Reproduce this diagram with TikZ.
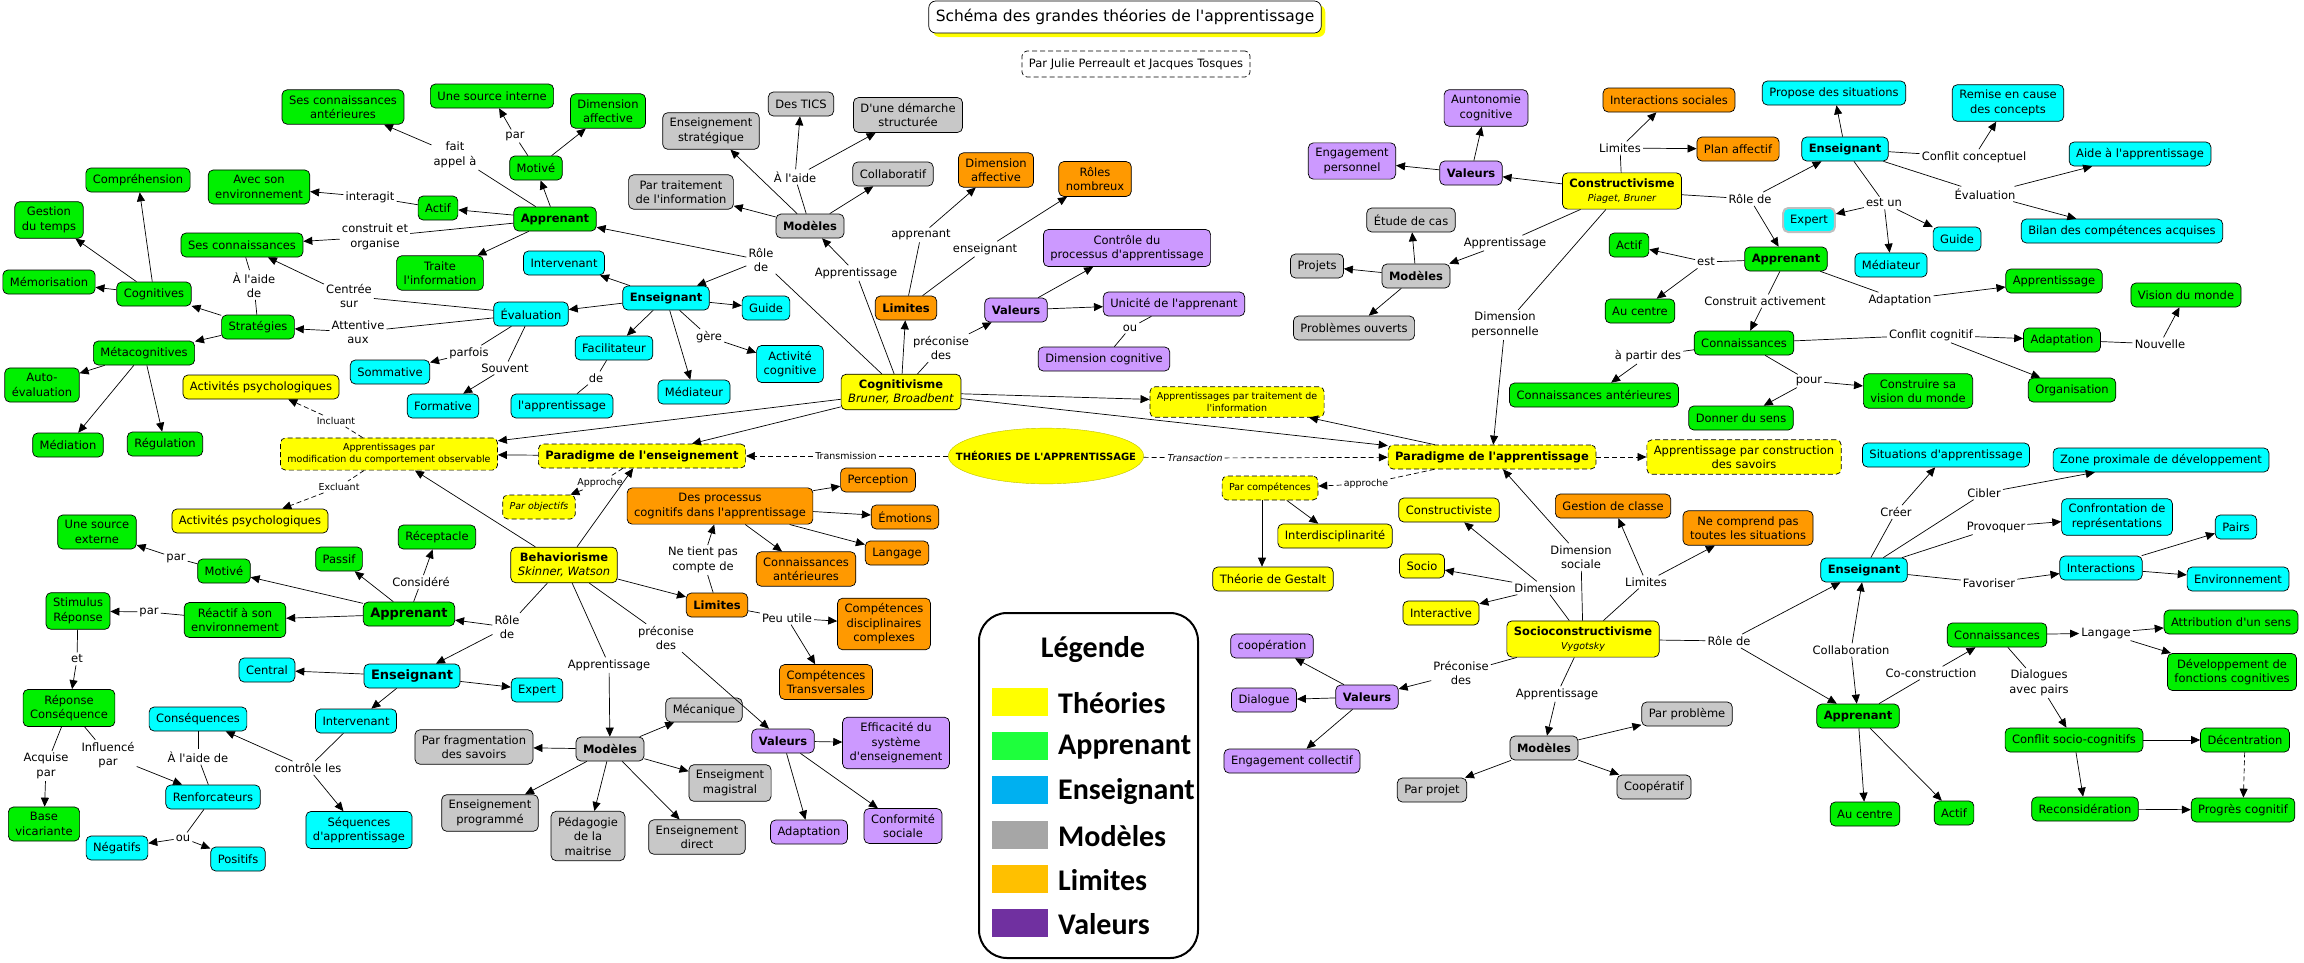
\documentclass[tikz,border=0pt]{standalone}
\usepackage{fontspec}
\setmainfont{DejaVu Sans}[Ligatures=TeXOff]
\newfontfamily\legfont{Carlito}
\usetikzlibrary{arrows.meta,shapes.geometric,shadows}
\definecolor{cjaune}{RGB}{255,255,0}
\definecolor{cvert}{RGB}{0,240,0}
\definecolor{ccyan}{RGB}{0,255,255}
\definecolor{cgris}{RGB}{200,200,200}
\definecolor{corange}{RGB}{255,153,0}
\definecolor{cmauve}{RGB}{204,153,255}
\definecolor{lgjaune}{RGB}{255,255,0}
\definecolor{lgvert}{RGB}{30,255,60}
\definecolor{lgbleu}{RGB}{0,176,240}
\definecolor{lggris}{RGB}{166,166,166}
\definecolor{lgorange}{RGB}{255,192,0}
\definecolor{lgviolet}{RGB}{112,48,160}
\newcommand\txtn{\fontsize{11.5}{14.5}\selectfont}
\newcommand\txts{\fontsize{9.5}{12}\selectfont}

\begin{document}
\begin{tikzpicture}[x=1pt,y=-1pt,
  concept/.style={rectangle, rounded corners=5pt, draw=black, line width=0.7pt,
                  align=center, inner xsep=7pt, inner ysep=5.5pt, minimum height=24pt, font=\txtn},
  appr/.style={concept, fill=cvert},
  ensg/.style={concept, fill=ccyan},
  modl/.style={concept, fill=cgris},
  limt/.style={concept, fill=corange},
  valr/.style={concept, fill=cmauve},
  theor/.style={concept, fill=cjaune},
  pointille/.style={concept, fill=cjaune, dash pattern=on 5pt off 3pt},
  tete/.style={font=\txtn\bfseries},
  grostete/.style={font=\fontsize{13}{16}\selectfont\bfseries},
  lien/.style={font=\txtn, inner sep=2pt, align=center},
  petit/.style={font=\txts, inner sep=2pt, align=center},
  fleche/.style={-{Triangle[length=9pt,width=8pt]}, line width=0.7pt},
  trait/.style={line width=0.7pt},
  dfleche/.style={fleche, dash pattern=on 5pt off 3pt},
  dtrait/.style={trait, dash pattern=on 5pt off 3pt}
]
\useasboundingbox (0,0) rectangle (2304,962);

% Titre
\node[concept, rounded corners=7pt, fill=white, font=\fontsize{15.5}{18}\selectfont, minimum height=32pt,
      drop shadow={shadow xshift=4pt, shadow yshift=-4pt, fill=cjaune, opacity=1}]
      (titre) at (1125,17) {Schéma des grandes théories de l'apprentissage};
\node[concept, fill=white, dash pattern=on 5pt off 3pt, minimum height=26pt] (auteurs) at (1136,64) {Par Julie Perreault et Jacques Tosques};

% Centre et paradigmes
\node[ellipse, fill=cjaune, draw=cjaune!75!black, inner xsep=-21pt, inner ysep=15pt,
      font=\fontsize{10}{12}\selectfont\bfseries] (theo) at (1046,456) {THÉORIES DE L'APPRENTISSAGE};
\node[pointille, tete] (pens) at (642,456) {Paradigme de l'enseignement};
\node[pointille, tete] (papp) at (1492,457) {Paradigme de l'apprentissage};
\node[petit] (transm) at (846,456) {Transmission};
\node[petit, font=\txts\itshape] (transa) at (1195,458) {Transaction};
\node[pointille, font=\txts] (amod) at (389,454) {Apprentissages par\\modification du comportement observable};
\node[pointille, font=\txts] (atrait) at (1237,402) {Apprentissages par traitement de\\l'information};
\node[pointille] (acons) at (1744,457) {Apprentissage par construction\\des savoirs};
\node[pointille, font=\txts\itshape] (pobj) at (539,507) {Par objectifs};
\node[pointille, font=\txts] (pcomp) at (1270,488) {Par compétences};
\node[theor] (actA) at (261,387) {Activités psychologiques};
\node[theor] (actB) at (250,521) {Activités psychologiques};
\node[petit] (incl) at (336,421) {Incluant};
\node[petit] (excl) at (339,487) {Excluant};
\node[petit] (appro) at (600,483) {Approche};
\node[petit] (approc) at (1366,484) {approche};
\node[theor] (interd) at (1335,536) {Interdisciplinarité};
\node[theor] (gestalt) at (1273,579) {Théorie de Gestalt};

% Cognitivisme
\node[theor] (cog) at (901,392) {\textbf{Cognitivisme}\\\textit{Bruner, Broadbent}};
\node[modl, tete] (cmod) at (810,226) {Modèles};
\node[modl] (cmodA) at (681,192) {Par traitement\\de l'information};
\node[modl] (cmodB) at (711,131) {Enseignement\\stratégique};
\node[modl] (cmodC) at (801,104) {Des TICS};
\node[modl] (cmodD) at (908,115) {D'une démarche\\structurée};
\node[modl] (cmodE) at (893,174) {Collaboratif};
\node[lien] (laide) at (795,177) {À l'aide};
\node[lien] (lapp1) at (856,273) {Apprentissage};
\node[limt, tete] (clim) at (906,308) {Limites};
\node[limt] (climA) at (996,170) {Dimension\\affective};
\node[limt] (climB) at (1095,179) {Rôles\\nombreux};
\node[lien] (lappr) at (921,235) {apprenant};
\node[lien] (lens) at (985,249) {enseignant};
\node[valr, tete] (cval) at (1016,310) {Valeurs};
\node[lien] (lpre1) at (941,348) {préconise\\des};
\node[valr] (cvalA) at (1127,248) {Contrôle du\\processus d'apprentissage};
\node[valr] (cvalB) at (1174,304) {Unicité de l'apprenant};
\node[lien] (lou1) at (1130,328) {ou};
\node[valr] (cvalC) at (1104,359) {Dimension cognitive};
\node[lien] (lrole1) at (761,260) {Rôle\\de};
\node[appr, tete] (capp) at (555,219) {Apprenant};
\node[appr] (cmot) at (536,168) {Motivé};
\node[lien] (lpar1) at (515,136) {par};
\node[appr] (csrc) at (492,96) {Une source interne};
\node[appr] (caff) at (608,111) {Dimension\\affective};
\node[lien] (lfait) at (455,155) {fait\\appel à};
\node[appr] (canter) at (343,107) {Ses connaissances\\antérieures};
\node[appr] (cactif) at (438,208) {Actif};
\node[lien] (linter) at (370,197) {interagit};
\node[appr] (cenv) at (259,187) {Avec son\\environnement};
\node[lien] (lcons) at (375,237) {construit et\\organise};
\node[appr] (cconn) at (242,245) {Ses connaissances};
\node[appr] (ctrait) at (440,273) {Traite\\l'information};
\node[lien] (laide2) at (254,285) {À l'aide\\de};
\node[appr] (cstrat) at (258,327) {Stratégies};
\node[appr] (ccogn) at (154,294) {Cognitives};
\node[appr] (cmemo) at (49,282) {Mémorisation};
\node[appr] (cgest) at (49,220) {Gestion\\du temps};
\node[appr] (ccomp) at (138,180) {Compréhension};
\node[appr] (cmeta) at (144,353) {Métacognitives};
\node[appr] (cauto) at (42,385) {Auto-\\évaluation};
\node[appr] (cmedi) at (68,445) {Médiation};
\node[appr] (cregu) at (165,444) {Régulation};
\node[ensg, tete] (cens) at (666,298) {Enseignant};
\node[ensg] (cinterv) at (564,263) {Intervenant};
\node[ensg] (ceval) at (531,314) {Évaluation};
\node[lien] (lcentr) at (349,296) {Centrée\\sur};
\node[lien] (latt) at (358,332) {Attentive\\aux};
\node[lien] (lparf) at (469,353) {parfois};
\node[lien] (lsouv) at (505,368) {Souvent};
\node[ensg] (csomm) at (390,372) {Sommative};
\node[ensg] (cform) at (443,406) {Formative};
\node[ensg] (cguide) at (766,308) {Guide};
\node[ensg] (cfacil) at (614,348) {Facilitateur};
\node[lien] (lde) at (596,378) {de};
\node[ensg] (clapp) at (562,406) {l'apprentissage};
\node[ensg] (cmedia) at (694,392) {Médiateur};
\node[lien] (lgere) at (709,337) {gère};
\node[ensg] (cacti) at (790,364) {Activité\\cognitive};

% Behaviorisme
\node[theor] (beh) at (564,565) {\textbf{Behaviorisme}\\\textit{Skinner, Watson}};
\node[limt, tete] (blim) at (717,605) {Limites};
\node[lien] (lne) at (703,560) {Ne tient pas\\compte de};
\node[limt] (bproc) at (720,506) {Des processus\\cognitifs dans l'apprentissage};
\node[limt] (bperc) at (878,480) {Perception};
\node[limt] (bemo) at (905,517) {Émotions};
\node[limt] (blang) at (897,553) {Langage};
\node[limt] (bante) at (806,569) {Connaissances\\antérieures};
\node[lien] (lpeu) at (787,618) {Peu utile};
\node[limt] (bdisc) at (884,624) {Compétences\\disciplinaires\\complexes};
\node[limt] (btrans) at (826,682) {Compétences\\Transversales};
\node[lien] (lpre2) at (666,638) {préconise\\des};
\node[valr, tete] (bval) at (783,741) {Valeurs};
\node[valr] (bvalA) at (896,743) {Efficacité du\\système\\d'enseignement};
\node[valr] (bvalB) at (809,832) {Adaptation};
\node[valr] (bvalC) at (903,826) {Conformité\\sociale};
\node[lien] (lapp2) at (609,665) {Apprentissage};
\node[modl, tete] (bmod) at (610,749) {Modèles};
\node[modl] (bmec) at (704,710) {Mécanique};
\node[modl] (bmag) at (730,783) {Enseigment\\magistral};
\node[modl] (bdir) at (697,837) {Enseignement\\direct};
\node[modl] (bped) at (588,836) {Pédagogie\\de la\\maitrise};
\node[modl] (bprog) at (490,813) {Enseignement\\programmé};
\node[modl] (bfrag) at (474,747) {Par fragmentation\\des savoirs};
\node[lien] (lrole2) at (507,627) {Rôle\\de};
\node[appr, grostete] (bapp) at (409,614) {Apprenant};
\node[appr] (bmot) at (224,571) {Motivé};
\node[lien] (lpar2) at (176,558) {par};
\node[appr] (bsrc) at (97,532) {Une source\\externe};
\node[appr] (bpass) at (339,559) {Passif};
\node[lien] (lcons2) at (421,582) {Considéré};
\node[appr] (brecep) at (437,537) {Réceptacle};
\node[appr] (breac) at (235,620) {Réactif à son\\environnement};
\node[lien] (lpar3) at (149,612) {par};
\node[appr] (bstim) at (78,611) {Stimulus\\Réponse};
\node[lien] (let) at (77,659) {et};
\node[appr] (brep) at (69,708) {Réponse\\Conséquence};
\node[lien] (lacq) at (46,766) {Acquise\\par};
\node[lien] (linf) at (108,755) {Influencé\\par};
\node[appr] (bbase) at (44,824) {Base\\vicariante};
\node[ensg, grostete] (bens) at (412,676) {Enseignant};
\node[ensg] (bcent) at (267,670) {Central};
\node[ensg] (bexp) at (537,690) {Expert};
\node[ensg] (binter) at (356,721) {Intervenant};
\node[lien] (lctrl) at (308,768) {contrôle les};
\node[ensg] (bseq) at (359,830) {Séquences\\d'apprentissage};
\node[ensg] (bconseq) at (198,719) {Conséquences};
\node[lien] (laide3) at (198,757) {À l'aide de};
\node[ensg] (brenf) at (213,797) {Renforcateurs};
\node[lien] (lou2) at (183,838) {ou};
\node[ensg] (bneg) at (117,848) {Négatifs};
\node[ensg] (bpos) at (238,859) {Positifs};

% Constructivisme
\node[theor] (kon) at (1622,191) {\textbf{Constructivisme}\\{\txts\itshape Piaget, Bruner}};
\node[valr, tete] (kval) at (1471,173) {Valeurs};
\node[valr] (kengp) at (1352,161) {Engagement\\personnel};
\node[valr] (kauto) at (1486,108) {Auntonomie\\cognitive};
\node[lien] (llim1) at (1620,148) {Limites};
\node[limt] (kint) at (1669,100) {Interactions sociales};
\node[limt] (kplan) at (1738,149) {Plan affectif};
\node[lien] (lapp3) at (1505,243) {Apprentissage};
\node[modl, tete] (kmod) at (1416,276) {Modèles};
\node[modl] (ketud) at (1411,220) {Étude de cas};
\node[modl] (kproj) at (1317,266) {Projets};
\node[modl] (kprob) at (1354,328) {Problèmes ouverts};
\node[lien] (ldim1) at (1505,325) {Dimension\\personnelle};
\node[lien] (lrole3) at (1750,199) {Rôle de};
\node[ensg, tete] (kens) at (1845,149) {Enseignant};
\node[ensg] (kprop) at (1834,93) {Propose des situations};
\node[lien] (lconf) at (1974,157) {Conflit conceptuel};
\node[ensg] (kremi) at (2008,103) {Remise en cause\\des concepts};
\node[lien] (leval) at (1985,194) {Évaluation};
\node[ensg] (kaide) at (2140,154) {Aide à l'apprentissage};
\node[ensg] (kbilan) at (2122,231) {Bilan des compétences acquises};
\node[lien] (lestun) at (1884,203) {est un};
\node[ensg, draw=black!25, line width=2pt] (kexp) at (1809,220) {Expert};
\node[ensg] (kguide) at (1957,239) {Guide};
\node[ensg] (kmedi) at (1891,265) {Médiateur};
\node[appr, tete] (kapp) at (1786,259) {Apprenant};
\node[lien] (lest) at (1706,262) {est};
\node[appr] (kactif) at (1629,245) {Actif};
\node[appr] (kcent) at (1640,311) {Au centre};
\node[lien] (lconsa) at (1765,301) {Construit activement};
\node[lien] (ladap) at (1900,300) {Adaptation};
\node[appr] (kappr) at (2054,281) {Apprentissage};
\node[appr] (kconn) at (1744,343) {Connaissances};
\node[lien] (lconfc) at (1931,335) {Conflit cognitif};
\node[appr] (kadap) at (2062,340) {Adaptation};
\node[lien] (lnouv) at (2160,344) {Nouvelle};
\node[appr] (kvis) at (2186,295) {Vision du monde};
\node[appr] (korg) at (2072,390) {Organisation};
\node[lien] (lpart) at (1648,356) {à partir des};
\node[appr] (kante) at (1594,395) {Connaissances antérieures};
\node[lien] (lpour) at (1809,381) {pour};
\node[appr] (kconstr) at (1918,391) {Construire sa\\vision du monde};
\node[appr] (ksens) at (1741,418) {Donner du sens};

% Socioconstructivisme
\node[theor] (soc) at (1583,639) {\textbf{Socioconstructivisme}\\{\txts\itshape Vygotsky}};
\node[lien] (ldims) at (1581,557) {Dimension\\sociale};
\node[lien] (ldim2) at (1545,588) {Dimension};
\node[theor] (sconst) at (1449,510) {Constructiviste};
\node[theor] (ssocio) at (1422,566) {Socio};
\node[theor] (sinter) at (1441,613) {Interactive};
\node[lien] (llim2) at (1646,582) {Limites};
\node[limt] (sgest) at (1613,506) {Gestion de classe};
\node[limt] (sne) at (1748,528) {Ne comprend pas\\toutes les situations};
\node[lien] (lpre3) at (1461,673) {Préconise\\des};
\node[valr, tete] (sval) at (1367,697) {Valeurs};
\node[valr] (scoop) at (1272,646) {coopération};
\node[valr] (sdial) at (1264,700) {Dialogue};
\node[valr] (sengc) at (1292,761) {Engagement collectif};
\node[lien] (lapp4) at (1557,694) {Apprentissage};
\node[modl, tete] (smod) at (1544,748) {Modèles};
\node[modl] (sprob) at (1687,714) {Par problème};
\node[modl] (sproj) at (1432,790) {Par projet};
\node[modl] (scoopt) at (1654,787) {Coopératif};
\node[lien] (lrole4) at (1729,641) {Rôle de};
\node[ensg, tete] (sens) at (1864,570) {Enseignant};
\node[lien] (lcreer) at (1896,512) {Créer};
\node[ensg] (ssit) at (1946,455) {Situations d'apprentissage};
\node[lien] (lcibl) at (1984,493) {Cibler};
\node[ensg] (szone) at (2161,460) {Zone proximale de développement};
\node[lien] (lprov) at (1996,527) {Provoquer};
\node[ensg] (sconf) at (2117,517) {Confrontation de\\représentations};
\node[lien] (lfav) at (1989,583) {Favoriser};
\node[ensg] (sinteract) at (2101,568) {Interactions};
\node[ensg] (spairs) at (2236,527) {Pairs};
\node[ensg] (senv) at (2238,579) {Environnement};
\node[lien] (lcollab) at (1851,650) {Collaboration};
\node[appr, tete] (sapp) at (1858,716) {Apprenant};
\node[appr] (scent) at (1865,814) {Au centre};
\node[appr] (sactif) at (1954,813) {Actif};
\node[lien] (lcoc) at (1931,673) {Co-construction};
\node[appr] (sconn) at (1997,635) {Connaissances};
\node[lien] (llang) at (2106,633) {Langage};
\node[appr] (sattr) at (2231,622) {Attribution d'un sens};
\node[appr] (sdev) at (2232,672) {Développement de\\fonctions cognitives};
\node[lien] (ldial) at (2039,683) {Dialogues\\avec pairs};
\node[appr] (sconfl) at (2074,740) {Conflit socio-cognitifs};
\node[appr] (sdec) at (2245,740) {Décentration};
\node[appr] (srecon) at (2085,809) {Reconsidération};
\node[appr] (sprog) at (2243,810) {Progrès cognitif};

% Liens : centre et paradigmes
\draw[dtrait] (theo) -- (transm); \draw[dfleche] (transm) -- (pens);
\draw[dtrait] (theo) -- (transa); \draw[dfleche] (transa) -- (papp);
\draw[dtrait] (pens) -- (appro); \draw[dfleche] (appro) -- (pobj);
\draw[fleche] (pens) -- (amod);
\draw[dtrait] (amod) -- (incl); \draw[dfleche] (incl) -- (actA);
\draw[dtrait] (amod) -- (excl); \draw[dfleche] (excl) -- (actB);
\draw[dfleche] (papp) -- (acons);
\draw[dtrait] (papp) -- (approc); \draw[dfleche] (approc) -- (pcomp);
\draw[fleche] (papp) -- (atrait);
\draw[fleche] (pcomp) -- (interd);
\draw[fleche] ([xshift=-8pt]pcomp.south) -- ([xshift=-8pt]pcomp.south |- gestalt.north);

% Liens : cognitivisme
\draw[trait] (cog) -- (lapp1); \draw[fleche] (lapp1) -- (cmod);
\foreach \t in {cmodA,cmodB,cmodE} \draw[fleche] (cmod) -- (\t);
\draw[trait] (cmod) -- (laide);
\draw[fleche] (laide) -- (cmodC); \draw[fleche] (laide) -- (cmodD);
\draw[fleche] (cog) -- (clim);
\draw[trait] (clim) -- (lappr); \draw[fleche] (lappr) -- (climA);
\draw[trait] (clim) -- (lens); \draw[fleche] (lens) -- (climB);
\draw[trait] (cog) -- (lpre1); \draw[fleche] (lpre1) -- (cval);
\draw[fleche] (cval) -- (cvalA); \draw[fleche] (cval) -- (cvalB);
\draw[trait] (cvalB) -- (lou1); \draw[trait] (lou1) -- (cvalC);
\draw[trait] (cog) -- (lrole1);
\draw[fleche] (lrole1) -- (capp); \draw[fleche] (lrole1) -- (cens);
\draw[fleche] (capp) -- (cmot); \draw[fleche] (cmot) -- (caff);
\draw[trait] (cmot) -- (lpar1); \draw[fleche] (lpar1) -- (csrc);
\draw[trait] (capp) -- (lfait); \draw[fleche] (lfait) -- (canter);
\draw[fleche] (capp) -- (cactif);
\draw[trait] (cactif) -- (linter); \draw[fleche] (linter) -- (cenv);
\draw[trait] (capp) -- (lcons); \draw[fleche] (lcons) -- (cconn);
\draw[fleche] (capp) -- (ctrait);
\draw[trait] (cconn) -- (laide2); \draw[trait] (laide2) -- (cstrat);
\draw[fleche] (cstrat) -- (ccogn); \draw[fleche] (cstrat) -- (cmeta);
\foreach \t in {cmemo,cgest,ccomp} \draw[fleche] (ccogn) -- (\t);
\foreach \t in {cauto,cmedi,cregu} \draw[fleche] (cmeta) -- (\t);
\foreach \t in {cinterv,ceval,cguide,cfacil,cmedia} \draw[fleche] (cens) -- (\t);
\draw[trait] (cens) -- (lgere); \draw[fleche] (lgere) -- (cacti);
\draw[trait] (cfacil) -- (lde); \draw[trait] (lde) -- (clapp);
\draw[trait] (ceval) -- (lcentr); \draw[fleche] (lcentr) -- (cconn);
\draw[trait] (ceval) -- (latt); \draw[fleche] (latt) -- (cstrat);
\draw[trait] (ceval) -- (lparf); \draw[fleche] (lparf) -- (csomm);
\draw[trait] (ceval) -- (lsouv); \draw[fleche] (lsouv) -- (cform);
\draw[fleche] (cog) -- (atrait);
\draw[fleche] (cog) -- (pens);
\draw[fleche] (cog) -- (papp);
\draw[fleche] (cog) -- (amod);

% Liens : behaviorisme
\draw[fleche] (beh) -- (pens); \draw[fleche] (beh) -- (amod);
\draw[fleche] (beh) -- (blim);
\draw[trait] (blim) -- (lne); \draw[fleche] (lne) -- (bproc);
\foreach \t in {bperc,bemo,blang,bante} \draw[fleche] (bproc) -- (\t);
\draw[trait] (blim) -- (lpeu);
\draw[fleche] (lpeu) -- (bdisc); \draw[fleche] (lpeu) -- (btrans);
\draw[trait] (beh) -- (lpre2); \draw[fleche] (lpre2) -- (bval);
\foreach \t in {bvalA,bvalB,bvalC} \draw[fleche] (bval) -- (\t);
\draw[trait] (beh) -- (lapp2); \draw[fleche] (lapp2) -- (bmod);
\foreach \t in {bmec,bmag,bdir,bped,bprog,bfrag} \draw[fleche] (bmod) -- (\t);
\draw[trait] (beh) -- (lrole2);
\draw[fleche] (lrole2) -- (bapp); \draw[fleche] (lrole2) -- (bens);
\draw[fleche] (bapp) -- (bmot);
\draw[trait] (bmot) -- (lpar2); \draw[fleche] (lpar2) -- (bsrc);
\draw[fleche] (bapp) -- (bpass);
\draw[trait] (bapp) -- (lcons2); \draw[fleche] (lcons2) -- (brecep);
\draw[fleche] (bapp) -- (breac);
\draw[trait] (breac) -- (lpar3); \draw[fleche] (lpar3) -- (bstim);
\draw[trait] (bstim) -- (let); \draw[fleche] (let) -- (brep);
\draw[trait] (brep) -- (lacq); \draw[fleche] (lacq) -- (bbase);
\draw[trait] (brep) -- (linf); \draw[fleche] (linf) -- (brenf);
\foreach \t in {bcent,bexp,binter} \draw[fleche] (bens) -- (\t);
\draw[trait] (binter) -- (lctrl);
\draw[fleche] (lctrl) -- (bseq); \draw[fleche] (lctrl) -- (bconseq);
\draw[trait] (bconseq) -- (laide3); \draw[trait] (laide3) -- (brenf);
\draw[trait] (brenf) -- (lou2);
\draw[fleche] (lou2) -- (bneg); \draw[fleche] (lou2) -- (bpos);

% Liens : constructivisme
\draw[fleche] (kon) -- (kval);
\draw[fleche] (kval) -- (kengp); \draw[fleche] (kval) -- (kauto);
\draw[trait] (kon) -- (llim1);
\draw[fleche] (llim1) -- (kint); \draw[fleche] (llim1) -- (kplan);
\draw[trait] (kon) -- (lapp3); \draw[fleche] (lapp3) -- (kmod);
\foreach \t in {ketud,kproj,kprob} \draw[fleche] (kmod) -- (\t);
\draw[trait] (kon) -- (ldim1); \draw[fleche] (ldim1) -- (papp);
\draw[trait] (kon) -- (lrole3);
\draw[fleche] (lrole3) -- (kens); \draw[fleche] (lrole3) -- (kapp);
\draw[fleche] (kens) -- (kprop);
\draw[trait] (kens) -- (lconf); \draw[fleche] (lconf) -- (kremi);
\draw[trait] (kens) -- (leval);
\draw[fleche] (leval) -- (kaide); \draw[fleche] (leval) -- (kbilan);
\draw[trait] (kens) -- (lestun);
\foreach \t in {kexp,kguide,kmedi} \draw[fleche] (lestun) -- (\t);
\draw[trait] (kapp) -- (lest);
\draw[fleche] (lest) -- (kactif); \draw[fleche] (lest) -- (kcent);
\draw[trait] (kapp) -- (lconsa); \draw[fleche] (lconsa) -- (kconn);
\draw[trait] (kapp) -- (ladap); \draw[fleche] (ladap) -- (kappr);
\draw[trait] (kconn) -- (lconfc);
\draw[fleche] (lconfc) -- (kadap); \draw[fleche] (lconfc) -- (korg);
\draw[trait] (kadap) -- (lnouv); \draw[fleche] (lnouv) -- (kvis);
\draw[trait] (kconn) -- (lpart); \draw[fleche] (lpart) -- (kante);
\draw[trait] (kconn) -- (lpour);
\draw[fleche] (lpour) -- (kconstr); \draw[fleche] (lpour) -- (ksens);

% Liens : socioconstructivisme
\draw[trait] (soc) -- (ldims); \draw[fleche] (ldims) -- (papp);
\draw[trait] (soc) -- (ldim2);
\foreach \t in {sconst,ssocio,sinter} \draw[fleche] (ldim2) -- (\t);
\draw[trait] (soc) -- (llim2);
\draw[fleche] (llim2) -- (sgest); \draw[fleche] (llim2) -- (sne);
\draw[trait] (soc) -- (lpre3); \draw[fleche] (lpre3) -- (sval);
\foreach \t in {scoop,sdial,sengc} \draw[fleche] (sval) -- (\t);
\draw[trait] (soc) -- (lapp4); \draw[fleche] (lapp4) -- (smod);
\foreach \t in {sprob,sproj,scoopt} \draw[fleche] (smod) -- (\t);
\draw[trait] (soc) -- (lrole4);
\draw[fleche] (lrole4) -- (sens); \draw[fleche] (lrole4) -- (sapp);
\draw[trait] (sens) -- (lcreer); \draw[fleche] (lcreer) -- (ssit);
\draw[trait] (sens) -- (lcibl); \draw[fleche] (lcibl) -- (szone);
\draw[trait] (sens) -- (lprov); \draw[fleche] (lprov) -- (sconf);
\draw[trait] (sens) -- (lfav); \draw[fleche] (lfav) -- (sinteract);
\draw[fleche] (sinteract) -- (spairs); \draw[fleche] (sinteract) -- (senv);
\draw[fleche] (lcollab) -- (sens); \draw[fleche] (lcollab) -- (sapp);
\draw[fleche] (sapp) -- (scent); \draw[fleche] (sapp) -- (sactif);
\draw[trait] (sapp) -- (lcoc); \draw[fleche] (lcoc) -- (sconn);
\draw[fleche] (sconn) -- (llang);
\draw[fleche] (llang) -- (sattr); \draw[fleche] (llang) -- (sdev);
\draw[trait] (sconn) -- (ldial); \draw[fleche] (ldial) -- (sconfl);
\draw[fleche] (sconfl) -- (sdec); \draw[fleche] (sconfl) -- (srecon);
\draw[dfleche] (sdec) -- (sprog); \draw[fleche] (srecon) -- (sprog);

% Légende
\draw[line width=2pt, rounded corners=28pt] (979,613) rectangle (1198,958);
\node[font=\legfont\bfseries\fontsize{30}{34}\selectfont] (legtitre) at (1093,650) {Légende};
\foreach \c/\t [count=\i] in {lgjaune/Théories, lgvert/Apprenant, lgbleu/Enseignant,
                              lggris/Modèles, lgorange/Limites, lgviolet/Valeurs} {
  \fill[\c] (992,{688+44.2*(\i-1)}) rectangle ++(56,28);
  \node[anchor=west, inner sep=0pt, font=\legfont\bfseries\fontsize{30}{34}\selectfont]
    (leg\i) at (1058,{703+44.2*(\i-1)}) {\t};
}
\end{tikzpicture}
\end{document}
